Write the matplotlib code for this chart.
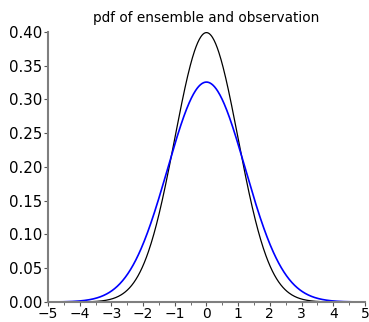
import numpy as np
import matplotlib
matplotlib.use("Agg")
import matplotlib.pyplot as plt
from matplotlib.ticker import MultipleLocator, FormatStrFormatter

# Distribution parameters (peak heights 0.399 and ~0.326)
names = ["observation", "ensemble"]
means = [0.0, 0.0]
sigmas = [1.0, 1.225]
colors = ["black", "#0000ff"]

x_range = [-5, 5]
y_range = [0.0, 0.40]

x = np.linspace(x_range[0], x_range[1], 600)

fig = plt.figure(figsize=(3.69, 3.22), dpi=100, facecolor="white")
ax = fig.add_axes([0.130, 0.062, 0.859, 0.839])

for mu, sd, col in zip(means, sigmas, colors):
    pdf = np.exp(-0.5 * ((x - mu) / sd) ** 2) / (sd * np.sqrt(2 * np.pi))
    ax.plot(x, pdf, color=col, linewidth=1.2 if col != "black" else 0.9)

ax.set_xlim(*x_range)
ax.set_ylim(*y_range)
ax.set_title("pdf of ensemble and observation", fontsize=9.8, pad=7)

for side in ("top", "right"):
    ax.spines[side].set_visible(False)
for side in ("left", "bottom"):
    ax.spines[side].set_color("#7f7f7f")
    ax.spines[side].set_linewidth(1.5)

ax.xaxis.set_major_locator(MultipleLocator(1))
ax.xaxis.set_minor_locator(MultipleLocator(0.5))
ax.yaxis.set_major_locator(MultipleLocator(0.05))
ax.yaxis.set_major_formatter(FormatStrFormatter("%.2f"))
ax.tick_params(axis="y", which="major", labelsize=10.8, length=3,
               color="#555555", pad=1)
ax.tick_params(axis="x", which="major", labelsize=10, length=3,
               color="#555555", pad=0.5)
ax.tick_params(axis="x", which="minor", length=2, color="#555555")
ax.set_xticklabels([f"{int(t)}".replace("-", "\u2212") for t in ax.get_xticks()])

fig.savefig("out.png", dpi=100)
